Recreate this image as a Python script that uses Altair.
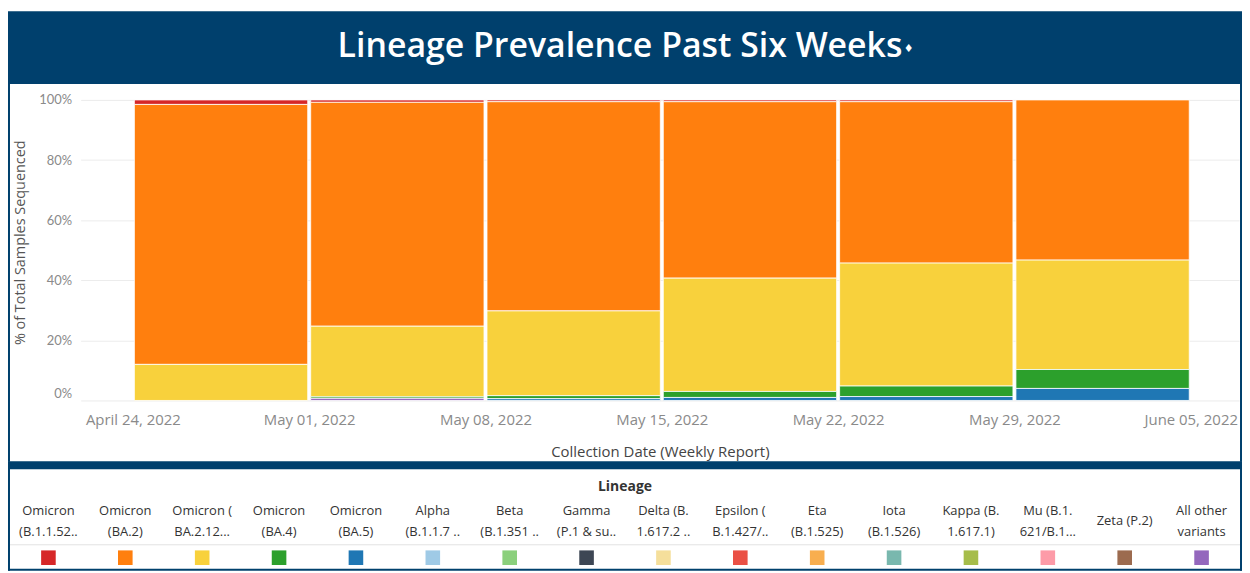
import altair as alt
import pandas as pd

NAVY = "#00406d"
TITLE = "Lineage Prevalence Past Six Weeks"
WEEKS = ["2022-04-24", "2022-05-01", "2022-05-08", "2022-05-15", "2022-05-22", "2022-05-29"]
TICK_DATES = [(2022, 4, 24), (2022, 5, 1), (2022, 5, 8), (2022, 5, 15), (2022, 5, 22), (2022, 5, 29), (2022, 6, 5)]

LINEAGES = [
    "Omicron (B.1.1.529)", "Omicron (BA.2)", "Omicron (BA.2.12.1)", "Omicron (BA.4)",
    "Omicron (BA.5)", "Alpha (B.1.1.7 & Q lineages)", "Beta (B.1.351 & descendent lineages)",
    "Gamma (P.1 & descendent lineages)", "Delta (B.1.617.2 & AY lineages)",
    "Epsilon (B.1.427/B.1.429)", "Eta (B.1.525)", "Iota (B.1.526)", "Kappa (B.1.617.1)",
    "Mu (B.1.621/B.1.621.1)", "Zeta (P.2)", "All other variants",
]
LEGEND_LABELS = [
    "Omicron\n(B.1.1.52..", "Omicron\n(BA.2)", "Omicron (\nBA.2.12...", "Omicron\n(BA.4)",
    "Omicron\n(BA.5)", "Alpha\n(B.1.1.7 ..", "Beta\n(B.1.351 ..", "Gamma\n(P.1 & su..",
    "Delta (B.\n1.617.2 ..", "Epsilon (\nB.1.427/..", "Eta\n(B.1.525)", "Iota\n(B.1.526)",
    "Kappa (B.\n1.617.1)", "Mu (B.1.\n621/B.1...", "Zeta (P.2)", "All other\nvariants",
]
COLORS = [
    "#d62728", "#ff7f0e", "#f8d13c", "#2ca02c", "#1f77b4", "#9fcae6", "#8bd07c", "#3d4654",
    "#f5df9b", "#ea5045", "#f8ae4f", "#79b8ae", "#a6bd4a", "#fd9ba8", "#9c6b4f", "#9467bd",
]

# % of total samples per week
OMICRON_B11529 = [1.5, 0.8, 0.6, 0.6, 0.6, 0.0]
OMICRON_BA2 = [86.5, 74.5, 69.6, 58.7, 53.7, 53.3]
OMICRON_BA2121 = [12.0, 23.5, 28.2, 37.7, 40.9, 36.4]
OMICRON_BA4 = [0.0, 0.5, 1.0, 2.0, 3.5, 6.3]
OMICRON_BA5 = [0.0, 0.0, 0.6, 1.0, 1.3, 4.0]
ALL_OTHER = [0.0, 0.7, 0.0, 0.0, 0.0, 0.0]

SERIES = [
    ("Omicron (B.1.1.529)", OMICRON_B11529),
    ("Omicron (BA.2)", OMICRON_BA2),
    ("Omicron (BA.2.12.1)", OMICRON_BA2121),
    ("Omicron (BA.4)", OMICRON_BA4),
    ("Omicron (BA.5)", OMICRON_BA5),
    ("All other variants", ALL_OTHER),
]

rows = []
for name, vals in SERIES:
    for wk, v in zip(WEEKS, vals):
        if v > 0:
            end = (pd.Timestamp(wk) + pd.Timedelta(days=7)).strftime("%Y-%m-%d")
            rows.append({"start": wk, "end": end, "lineage": name, "pct": v / 100.0,
                         "order": LINEAGES.index(name)})
df = pd.DataFrame(rows)

FONT = "Lato"
AFONT = "Open Sans"
W = 1164
MAIN_H = 379
color_scale = alt.Scale(domain=LINEAGES, range=COLORS)
one = alt.Data(values=[{"a": 1}])


def dt(y, m, d, h=0, mi=0):
    return alt.DateTime(year=y, month=m, date=d, hours=h, minutes=mi, utc=True)


# ---------- title band ----------
title_bg = alt.Chart(one).mark_rect(color=NAVY).encode(
    x=alt.value(-73), x2=alt.value(W + 3), y=alt.value(0), y2=alt.value(73)
)
title_txt = alt.Chart(alt.Data(values=[{"t": TITLE}])).mark_text(
    font="Open Sans", fontSize=34, fontWeight=600, color="white", align="center", baseline="middle"
).encode(x=alt.value(542), y=alt.value(36), text="t:N")
diamond = alt.Chart(alt.Data(values=[{"t": "♦"}])).mark_text(
    font="DejaVu Sans", fontSize=11, color="white", align="left", baseline="middle"
).encode(x=alt.value(827), y=alt.value(38), text="t:N")
title_panel = alt.layer(title_bg, title_txt, diamond).properties(width=W, height=73)

# ---------- main chart ----------
bars = alt.Chart(df).transform_stack(
    stack="pct", as_=["y0", "y1"], groupby=["start"],
    sort=[alt.SortField("order", order="descending")],
).mark_bar(
    xOffset=1.5, x2Offset=-1.5, stroke="white", strokeWidth=0.8
).encode(
    x=alt.X(
        "start:T",
        scale=alt.Scale(type="utc", domain=[dt(2022, 4, 21, 22, 13), dt(2022, 6, 6, 22, 0)]),
        axis=alt.Axis(
            values=[dt(*d) for d in TICK_DATES], format="%B %d, %Y", orient="bottom",
            offset=-61, domain=False, ticks=False, grid=False, labelPadding=12,
            labelColor="#8a8a8a", labelFontSize=15, labelFont=AFONT, labelOverlap=False,
            labelFlush=False,
            title="Collection Date (Weekly Report)", titleColor="#444", titleFontSize=15,
            titleFont=AFONT, titleFontWeight="normal", titleY=51, titleBaseline="middle",
        ),
    ),
    x2="end:T",
    y=alt.Y(
        "y1:Q",
        scale=alt.Scale(domain=[-0.20199, 1.05298], nice=False, zero=False),
        axis=alt.Axis(
            values=[0, 0.2, 0.4, 0.6, 0.8, 1.0], format=".0%", domain=False, ticks=False,
            gridColor="#ececec", labelColor="#8a8a8a", labelFontSize=13, labelFont=FONT,
            labelPadding=9,
            labelBaseline=alt.condition("datum.value == 0", alt.value("bottom"), alt.value("middle")),
            title="% of Total Samples Sequenced", titleColor="#555", titleFontSize=14.5,
            titleFont=AFONT, titleFontWeight="normal", titleX=-60, titleY=159,
            titleAngle=270, titleAlign="center", titleBaseline="middle",
        ),
    ),
    y2="y0:Q",
    color=alt.Color("lineage:N", scale=color_scale, legend=None),
)
main_left = alt.Chart(one).mark_rect(color=NAVY).encode(
    x=alt.value(-73), x2=alt.value(-71), y=alt.value(0), y2=alt.value(MAIN_H)
)
main_right = alt.Chart(one).mark_rect(color=NAVY).encode(
    x=alt.value(W + 1), x2=alt.value(W + 3), y=alt.value(0), y2=alt.value(MAIN_H)
)
main_panel = alt.layer(bars, main_left, main_right).properties(width=W, height=MAIN_H)

# ---------- legend ----------
LEG_H = 110
leg_df = pd.DataFrame({"lineage": LINEAGES, "label": LEGEND_LABELS})
xband = alt.X("lineage:N", sort=LINEAGES, axis=None,
              scale=alt.Scale(domain=LINEAGES, range=[-71, W + 1], paddingInner=0, paddingOuter=0))
label_style = dict(font=AFONT, fontSize=13, color="#333", lineBreak="\n", lineHeight=21,
                   align="center", baseline="middle")
leg_labels2 = alt.Chart(leg_df).transform_filter(
    "indexof(datum.label, '\\n') >= 0"
).mark_text(**label_style).encode(x=xband, y=alt.value(50), text="label:N")
leg_labels1 = alt.Chart(leg_df).transform_filter(
    "indexof(datum.label, '\\n') < 0"
).mark_text(**label_style).encode(x=xband, y=alt.value(60), text="label:N")
leg_squares = alt.Chart(leg_df).mark_square(size=215, opacity=1).encode(
    x=xband, y=alt.value(97),
    color=alt.Color("lineage:N", scale=color_scale, legend=None),
)
leg_title = alt.Chart(alt.Data(values=[{"t": "Lineage"}])).mark_text(
    font=AFONT, fontSize=14, fontWeight="bold", color="#333", align="center", baseline="middle"
).encode(x=alt.value(547), y=alt.value(26), text="t:N")
leg_sep = alt.Chart(one).mark_rule(color="#e2e2e2", strokeWidth=1).encode(
    x=alt.value(-71), x2=alt.value(W + 1), y=alt.value(84)
)
leg_top = alt.Chart(one).mark_rect(color=NAVY).encode(
    x=alt.value(-73), x2=alt.value(W + 3), y=alt.value(0), y2=alt.value(8)
)
leg_bottom = alt.Chart(one).mark_rect(color=NAVY).encode(
    x=alt.value(-73), x2=alt.value(W + 3), y=alt.value(108), y2=alt.value(LEG_H)
)
leg_left = alt.Chart(one).mark_rect(color=NAVY).encode(
    x=alt.value(-73), x2=alt.value(-71), y=alt.value(0), y2=alt.value(LEG_H)
)
leg_right = alt.Chart(one).mark_rect(color=NAVY).encode(
    x=alt.value(W + 1), x2=alt.value(W + 3), y=alt.value(0), y2=alt.value(LEG_H)
)
legend_panel = alt.layer(
    leg_top, leg_bottom, leg_left, leg_right, leg_sep, leg_title, leg_labels2, leg_labels1,
    leg_squares
).properties(width=W, height=LEG_H)

chart = alt.vconcat(title_panel, main_panel, legend_panel, spacing=0).resolve_scale(
    color="shared"
).configure(
    padding={"left": 0, "top": 2, "right": 0, "bottom": 0}, background="white", font=FONT
).configure_view(strokeWidth=0)

chart.save("out.html", embed_options={"renderer": "svg", "actions": False})
